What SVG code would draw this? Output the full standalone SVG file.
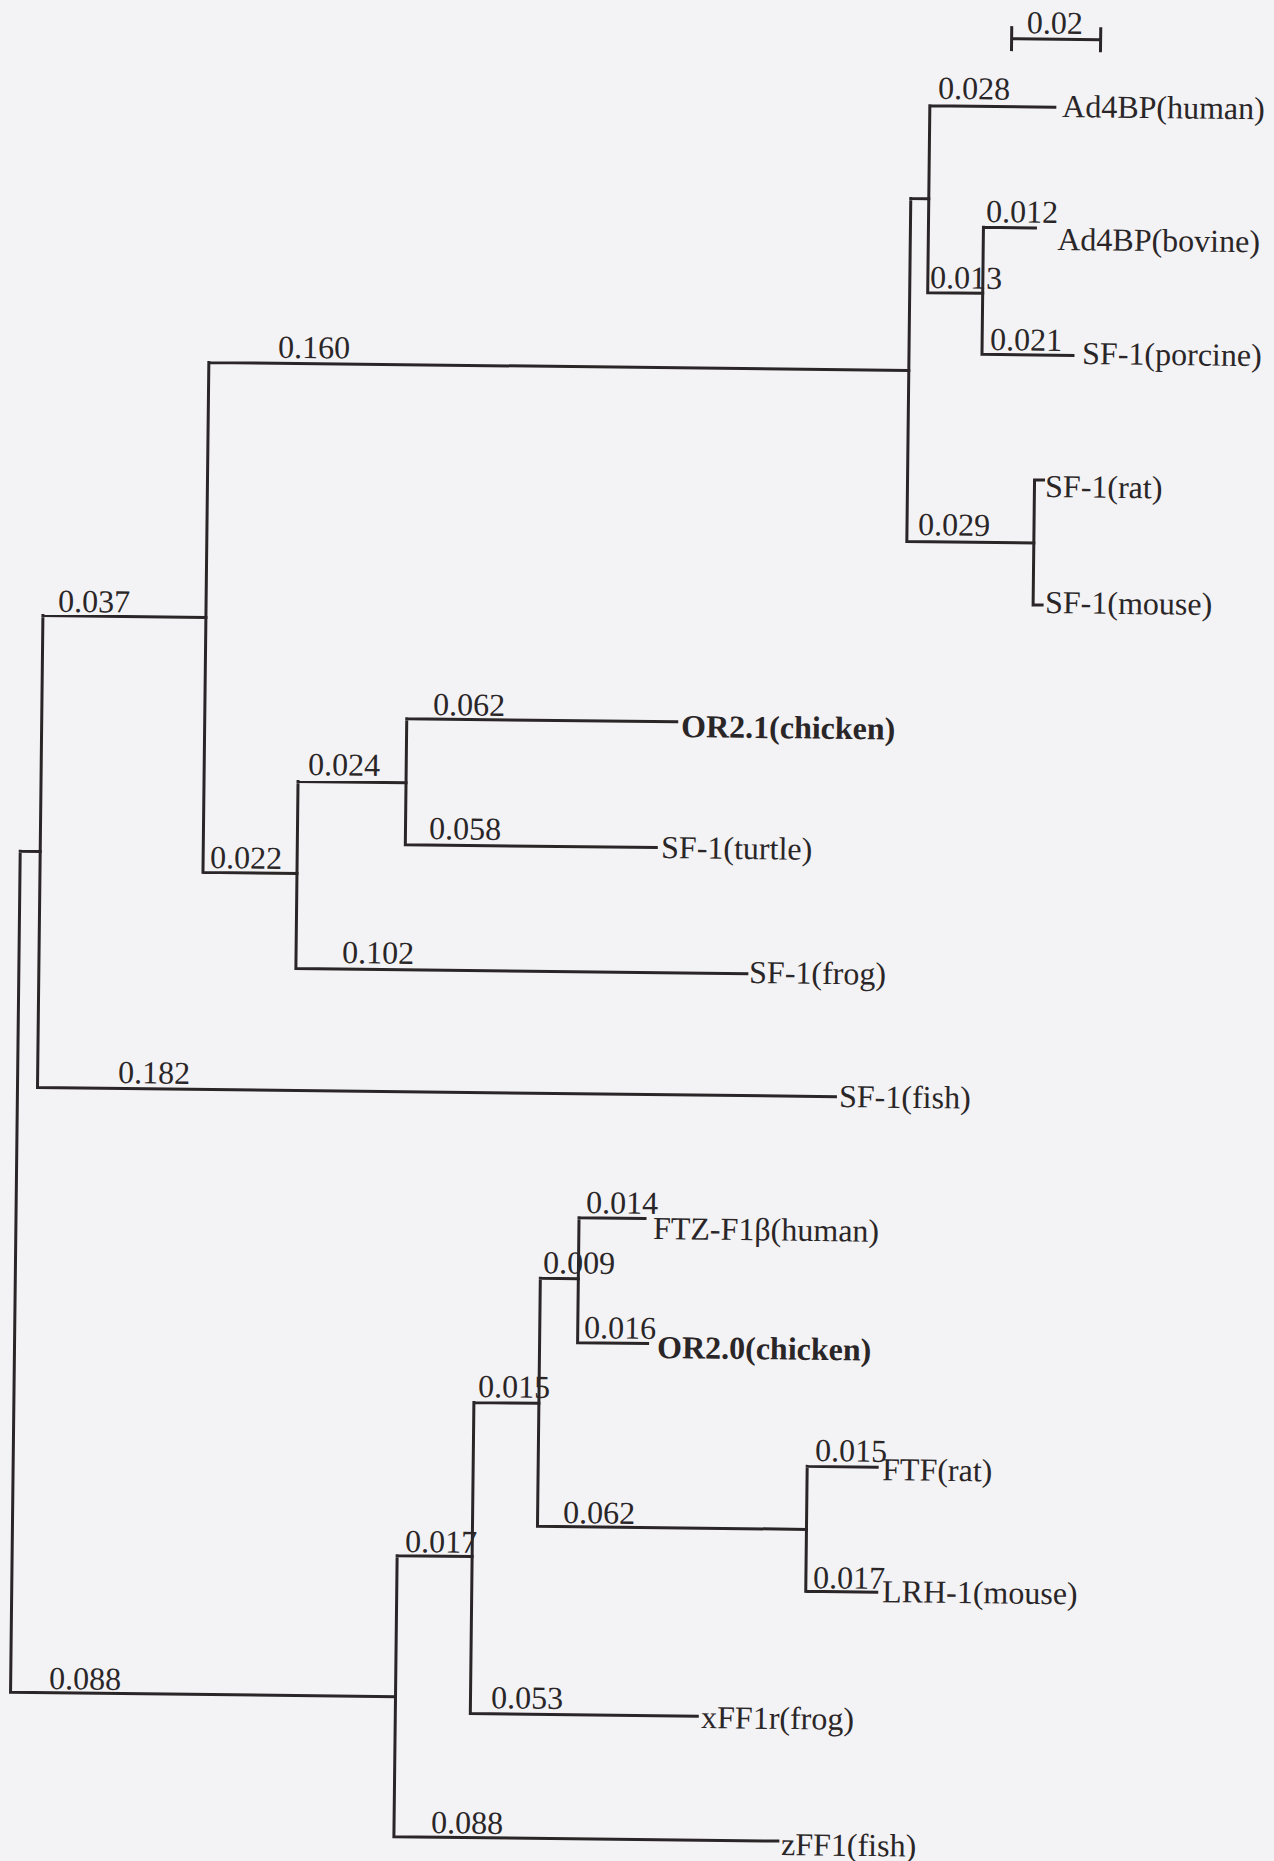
<svg xmlns="http://www.w3.org/2000/svg" width="1274" height="1861" viewBox="0 0 1274 1861">
<style>
.bg{fill:#f3f2f4}
.edge{fill:none;stroke:#2a2628;stroke-width:3;stroke-linecap:square;stroke-linejoin:miter}
text{font-family:"Liberation Serif","Times New Roman",serif;fill:#2a2628;font-size:32px}
.b{font-weight:bold}
</style>
<rect class="bg" x="0" y="0" width="1274" height="1861"/>
<g transform="rotate(0.659)">
<g id="connectors">
<path class="edge" d="M1012 27 H1101 M1012 16 V38 M1101 16 V38"/>
<path class="edge" d="M30 851 V1692 M30 851 H50 M30 1692 H415"/>
<path class="edge" d="M50 615 V1087 M50 615 H213 M50 1087 H848"/>
<path class="edge" d="M213 360 V870 M213 360 H913 M213 870 H307"/>
<path class="edge" d="M913 188 V531 M913 188 H931 M913 531 H1040"/>
<path class="edge" d="M931 95 V282 M931 95 H1056 M931 282 H986"/>
<path class="edge" d="M986 216 V343 M986 216 H1038 M986 343 H1077"/>
<path class="edge" d="M1040 468 V593 M1040 468 H1049 M1040 593 H1049"/>
<path class="edge" d="M307 778 V965 M307 778 H415 M307 965 H758"/>
<path class="edge" d="M415 714 V840 M415 714 H685 M415 840 H666"/>
<path class="edge" d="M415 1551 V1832 M415 1551 H490 M415 1832 H799"/>
<path class="edge" d="M490 1397 V1708 M490 1397 H555 M490 1708 H717"/>
<path class="edge" d="M555 1272 V1520 M555 1272 H593 M555 1520 H824"/>
<path class="edge" d="M593 1211 V1336 M593 1211 H659 M593 1336 H663"/>
<path class="edge" d="M824 1457 V1582 M824 1457 H894 M824 1582 H895"/>
</g>
<g id="branch-labels">
<text x="1027" y="21.5">0.02</text>
<text x="939" y="88">0.028</text>
<text x="988.6" y="210.7">0.012</text>
<text x="933.3" y="277.3">0.013</text>
<text x="994" y="338.6">0.021</text>
<text x="282" y="354.5">0.160</text>
<text x="924" y="524.4">0.029</text>
<text x="65" y="611">0.037</text>
<text x="441.2" y="710">0.062</text>
<text x="317" y="771.5">0.024</text>
<text x="438.6" y="834">0.058</text>
<text x="220" y="865.6">0.022</text>
<text x="353" y="959">0.102</text>
<text x="130.5" y="1081.6">0.182</text>
<text x="600" y="1206.3">0.014</text>
<text x="557.6" y="1266.8">0.009</text>
<text x="599.4" y="1331.3">0.016</text>
<text x="494" y="1391.5">0.015</text>
<text x="831.8" y="1451.6">0.015</text>
<text x="580.5" y="1516.5">0.062</text>
<text x="422.8" y="1547.3">0.017</text>
<text x="831.3" y="1578.7">0.017</text>
<text x="68.4" y="1688.4">0.088</text>
<text x="510.6" y="1702.4">0.053</text>
<text x="452" y="1828">0.088</text>
</g>
<g id="node-ad4bp-human"><text x="1063.3" y="104.8">Ad4BP(human)</text></g>
<g id="node-ad4bp-bovine"><text x="1060" y="237.8">Ad4BP(bovine)</text></g>
<g id="node-sf1-porcine"><text x="1086.2" y="351.6">SF-1(porcine)</text></g>
<g id="node-sf1-rat"><text x="1050.7" y="485">SF-1(rat)</text></g>
<g id="node-sf1-mouse"><text x="1052" y="601">SF-1(mouse)</text></g>
<g id="node-or21-chicken"><text class="b" x="689.5" y="729.2">OR2.1(chicken)</text></g>
<g id="node-sf1-turtle"><text x="670.9" y="850.4">SF-1(turtle)</text></g>
<g id="node-sf1-frog"><text x="760.3" y="974.4">SF-1(frog)</text></g>
<g id="node-sf1-fish"><text x="851.7" y="1097.4">SF-1(fish)</text></g>
<g id="node-ftzf1b-human"><text x="667.2" y="1231.5">FTZ-F1β(human)</text></g>
<g id="node-or20-chicken"><text class="b" x="672.6" y="1350.4">OR2.0(chicken)</text></g>
<g id="node-ftf-rat"><text x="899" y="1469.9">FTF(rat)</text></g>
<g id="node-lrh1-mouse"><text x="900.4" y="1591.9">LRH-1(mouse)</text></g>
<g id="node-xff1r-frog"><text x="720.9" y="1719.9">xFF1r(frog)</text></g>
<g id="node-zff1-fish"><text x="802.3" y="1846">zFF1(fish)</text></g>
</g>
</svg>
